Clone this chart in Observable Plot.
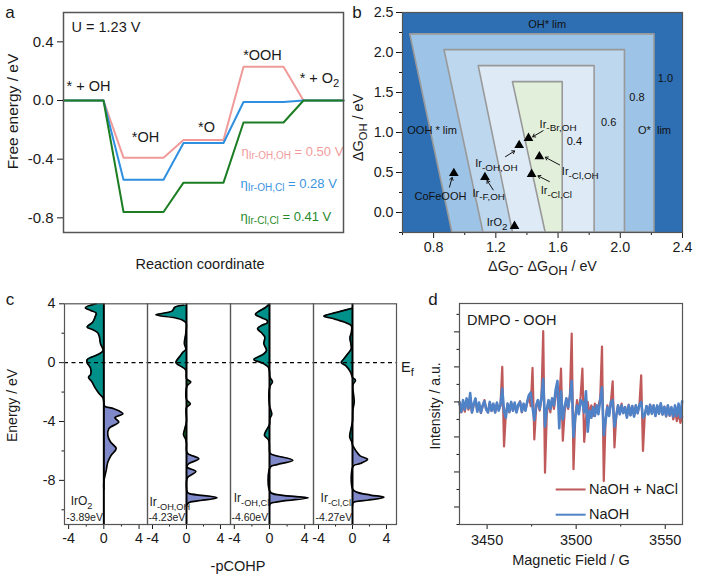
<!DOCTYPE html>
<html>
<head>
<meta charset="utf-8">
<script src="https://cdn.jsdelivr.net/npm/d3@7"></script>
<script src="https://cdn.jsdelivr.net/npm/@observablehq/plot@0.6"></script>
<style>
  body { margin: 0; background: white; font-family: "Liberation Sans", sans-serif; color: #1a1a1a; }
  #stage { position: relative; width: 708px; height: 588px; overflow: hidden; }
  #stage svg { position: absolute; }
  .note { position: absolute; font-size: 14.5px; white-space: nowrap; transform: translate(-50%, -50%); }
  .letter { font-size: 17px; }
</style>
</head>
<body>
<div id="stage"></div>
<script>
// panel a: free energy steps
const coord = [0, 2, 3, 5, 6, 8, 9, 11, 12, 14];
const stepsOH = [0, 0, -0.39, -0.39, -0.27, -0.27, 0.23, 0.23, 0, 0];
const stepsMix = [0, 0, -0.54, -0.54, -0.29, -0.29, -0.01, -0.01, 0, 0];
const stepsCl = [0, 0, -0.76, -0.76, -0.56, -0.56, -0.15, -0.15, 0, 0];
const aTicks = [0.4, 0, -0.4, -0.8];
const aText = ["* + OH", "*OH", "*O", "*OOH", "* + O_{2}"];
const aTextX = [1.25, 4.1, 7.15, 9.95, 12.8];
const aTextY = [0.095, -0.25, -0.18, 0.31, 0.15];
const etaText = ["η_{Ir-OH,OH} = 0.50 V", "η_{Ir-OH,Cl} = 0.28 V", "η_{Ir-Cl,Cl} = 0.41 V"];
const etaX = [8.9, 8.85, 8.85];
const etaY = [-0.347, -0.565, -0.79];
const etaColor = ["#f29c9c", "#3a94e0", "#2a8a2a"];

// panel b: volcano contours, outermost first
const levelColor = ["#9dc3e6", "#bdd7ee", "#deebf7", "#e2efda"];
const levelTop = [2.226, 2.03, 1.83, 1.63];
const levelTopLeft = [0.65, 0.87, 1.09, 1.31];
const levelBottomLeft = [0.92, 1.12, 1.31, 1.52];
const levelRight = [2.22, 2.03, 1.835, 1.63];
const catX = [0.93, 1.13, 1.35, 1.41, 1.48, 1.43, 1.32];
const catY = [0.49, 0.44, 0.84, 0.93, 0.7, 0.48, -0.17];
const bText = ["OH* lim", "1.0", "0.8", "0.6", "0.4", "O*  lim", "OOH * lim", "Ir_{-Br,OH}", "Ir_{-OH,OH}", "Ir_{-Cl,OH}", "Ir_{-F,OH}", "Ir_{-Cl,Cl}", "CoFeOOH", "IrO_{2}"];
const bTextX = [1.53, 2.29, 2.107, 1.925, 1.705, 2.22, 0.79, 1.6, 1.204, 1.743, 1.154, 1.589, 0.844, 1.208];
const bTextY = [2.35, 1.67, 1.44, 1.12, 0.89, 1.03, 1.03, 1.105, 0.616, 0.51, 0.242, 0.27, 0.2, -0.124];
const arrowX1 = [1.504, 1.262, 1.61, 1.544, 1.183, 0.902];
const arrowY1 = [1.022, 0.698, 0.595, 0.387, 0.283, 0.317];
const arrowX2 = [1.437, 1.321, 1.518, 1.471, 1.144, 0.919];
const arrowY2 = [0.947, 0.769, 0.69, 0.458, 0.4, 0.437];

// panel c: -pCOHP curves read from top to bottom
const e1 = [4, 3.73, 3.55, 3.37, 3.1, 2.76, 2.42, 2.24, 2.03, 1.74, 1.29, 0.83, 0.6, 0.2, 0, -0.4, -0.8, -1, -1.3, -1.7, -2.1, -2.4, -2.7, -2.95, -3.13, -3.47, -3.74, -4.03, -4.48, -4.94, -5.39, -5.84, -6.29, -6.75, -7.3, -8.1, -8.6];
const v1 = [-0.87, -2.1, -1.5, -0.87, -1, -1.25, -1.9, -1.25, -0.7, -0.5, -0.38, -0.08, -0.5, -1.9, -1.9, -1.5, -1.5, -1.74, -1.36, -1, -0.55, -0.1, 0, 0.08, 1.14, 2.16, 1.25, 1.7, 0.57, 0.45, 0.76, 1.4, 0.83, 0.45, 0.27, 0, 0];
const e2 = [3.9, 3.77, 3.5, 3.25, 3.05, 2.87, 2.7, 2, 1.3, 0.9, 0.72, 0.49, 0, -0.2, -0.5, -1.1, -1.3, -1.6, -2.5, -2.8, -3.05, -4, -4.6, -4.9, -5.2, -5.5, -6, -6.2, -6.53, -6.87, -7.1, -7.39, -7.73, -7.9, -8.8, -8.9, -9.18, -9.4, -9.52, -9.7];
const v2 = [-0.3, -1.37, -1.7, -3.6, -1.37, -0.4, -0.05, -0.08, -0.25, -0.08, -0.4, -0.7, -1.25, -0.8, -0.08, 0, 0.5, 0.05, 0, 0.45, 0, 0, -0.25, -0.35, -0.1, 0, 0, 0.2, 1.45, 0.25, 0.05, 1.1, 0.25, 0.05, 0.1, 0.35, 3.6, 1.3, 0.25, 0];
const e3 = [4, 3.73, 3.55, 3.28, 3.05, 2.87, 2.69, 2.53, 2.3, 2.03, 1.74, 1.29, 0.83, 0.6, 0.2, 0, -0.3, -0.64, -1, -1.3, -1.6, -2.9, -3.5, -3.8, -4.2, -4.7, -4.94, -5.28, -5.95, -6.18, -6.63, -6.93, -7.09, -8.8, -9, -9.19, -9.4, -9.57, -9.7];
const v3 = [0, -0.5, -1.05, -1.6, -0.9, -0.27, -0.27, -0.9, -1.36, -0.9, -0.53, -0.64, -0.34, -0.64, -1.78, -0.9, -0.15, 0, 0.05, 0.34, 0.05, 0, 0.26, 0.05, 0, -0.45, -0.57, -0.08, 0, 0.1, 2.65, 0.87, 0.1, 0.1, 1.25, 4.4, 1.6, 0.1, 0];
const e4 = [3.7, 3.55, 3.32, 3.16, 2.98, 2.76, 2.53, 2, 1.7, 1.3, 0.95, 0.6, 0.27, 0, -0.2, -0.64, -1, -1.2, -1.5, -2.67, -3.2, -4, -4.7, -5.05, -5.4, -5.6, -5.66, -6.07, -6.34, -6.57, -6.86, -7.02, -8.6, -8.8, -9, -9.15, -9.35, -9.5, -9.7];
const v4 = [-0.05, -1, -2.5, -3.37, -2.2, -1, -0.15, -0.15, -0.3, -0.2, -0.15, -0.55, -1, -1.33, -0.8, -0.23, 0, 0.35, 0.05, 0.2, 0.05, 0, -0.25, -0.33, -0.08, 0, 0.05, 0.5, 0.9, 1.77, 0.9, 0.1, 0.02, 0.5, 2.1, 3.7, 1.7, 0.1, 0];
const tealFrom = [-2.7, -0.8, -0.8, -1];
const purpleTo = [-2.7, -5.8, -5.95, -5.6];
const middleColor = ["#00908a", "#1f7d3c", "#00908a", "#00908a"];
const cLeft = [64, 147, 230, 313];
const cDomain = [[-4.47, 4.96], [-4.59, 5.18], [-4.43, 5], [-4.59, 5.18]];
const cName = ["IrO_{2}", "Ir_{-OH,OH}", "Ir_{-OH,Cl}", "Ir_{-Cl,Cl}"];
const cNameX = [-2.53, -4.35, -4.06, -3.76];
const cNameY = [-9.43, -9.5, -9.23, -9.23];
const cNameAnchor = ["middle", "start", "start", "start"];
const cCentre = ["-3.89eV", "-4.23eV", "-4.60eV", "-4.27eV"];
const cCentreX = [-2.19, -2.3, -2.24, -2.2];
const cCentreY = [-10.56, -10.56, -10.56, -10.5];

// panel d: EPR spectra
const field = [
  3434.5, 3435.5, 3436.5, 3437.5, 3438.5, 3439.5, 3440.5, 3441.5, 3442.5, 3443.5,
  3444.5, 3445.5, 3446.5, 3447.5, 3448.5, 3449.5, 3450.5, 3451.5, 3452.5, 3453.5,
  3454.5, 3455.5, 3456.5, 3457.5, 3458.5, 3459.5, 3460.5, 3461.5, 3462.5, 3463.5,
  3464.5, 3465.5, 3466.5, 3467.5, 3468.5, 3469.5, 3470.5, 3471.5, 3472.5, 3473.5,
  3474.5, 3475.5, 3476.5, 3477.5, 3478.5, 3479.5, 3480.5, 3481.5, 3482.5, 3483.5,
  3484.5, 3485.5, 3486.5, 3487.5, 3488.5, 3489.5, 3490.5, 3491.5, 3492.5, 3493.5,
  3494.5, 3495.5, 3496.5, 3497.5, 3498.5, 3499.5, 3500.5, 3501.5, 3502.5, 3503.5,
  3504.5, 3505.5, 3506.5, 3507.5, 3508.5, 3509.5, 3510.5, 3511.5, 3512.5, 3513.5,
  3514.5, 3515.5, 3516.5, 3517.5, 3518.5, 3519.5, 3520.5, 3521.5, 3522.5, 3523.5,
  3524.5, 3525.5, 3526.5, 3527.5, 3528.5, 3529.5, 3530.5, 3531.5, 3532.5, 3533.5,
  3534.5, 3535.5, 3536.5, 3537.5, 3538.5, 3539.5, 3540.5, 3541.5, 3542.5, 3543.5,
  3544.5, 3545.5, 3546.5, 3547.5, 3548.5, 3549.5, 3550.5, 3551.5, 3552.5, 3553.5,
  3554.5, 3555.5, 3556.5, 3557.5, 3558.5, 3559.5
];
const naohNacl = [
  -0.05, -0.3, -0.1, -0.28, 0.05, -0.22, -0.02, -0.3, -0.08, 0.02,
  -0.25, -0.05, -0.32, -0.12, 0.05, -0.2, -0.3, -0.02, -0.26, -0.08,
  -0.3, -0.05, -0.22, -0.12, 1, -1.27, -0.35, -0.05, -0.3, -0.02,
  -0.25, -0.05, -0.28, -0.1, 0.02, -0.3, -0.06, -0.24, -0.02, 0.15,
  -0.12, 0.97, -1.07, -0.2, 0.05, -0.25, 0.08, 2.02, -2.02, -0.35,
  0.02, -0.3, 0.1, -0.2, 0.15, 0.3, -0.1, 0.95, -1.11, -0.3,
  0.1, -0.2, 0.2, 1.95, -1.92, -0.4, 0.05, -0.3, 0.15, 0.95,
  -1.14, -0.5, 0, -0.35, -0.1, -0.4, -0.05, -0.3, -0.1, 0.1,
  1.58, -2.26, -0.5, -0.1, -0.35, 0, 0.59, -1.3, -0.4, -0.1,
  -0.35, -0.05, -0.3, -0.15, -0.42, -0.08, -0.38, -0.12, -0.4, -0.1,
  -0.32, -0.1, 0.76, -1.4, -0.4, -0.12, -0.35, -0.08, -0.32, -0.1,
  -0.4, -0.12, -0.34, -0.06, -0.36, -0.14, -0.42, -0.1, -0.4, -0.18,
  -0.5, -0.25, -0.55, -0.3, -0.6, -0.42
];
const naoh = [
  0, -0.28, 0.05, -0.22, 0.1, -0.18, 0.25, -0.3, -0.05, 0.1,
  -0.28, -0.02, -0.3, -0.1, 0.02, -0.22, -0.3, 0, -0.25, -0.05,
  -0.3, -0.02, -0.25, -0.08, 0.38, -0.28, -0.45, -0.05, -0.28, 0,
  -0.25, -0.02, -0.3, -0.08, 0, -0.28, -0.05, -0.25, 0, 0.2,
  0.27, -0.15, -0.52, -0.1, 0.05, -0.2, 0.12, 0.65, -0.7, -0.2,
  0.05, -0.2, 0.1, -0.1, 0.35, 0.6, -0.75, 0.3, -0.5, -0.15,
  0.1, -0.15, 0.15, 0.6, -1, -0.45, -0.1, -0.35, 0.05, 0,
  -0.3, 0.3, -0.85, -0.25, -0.45, -0.15, -0.4, -0.1, -0.35, 0.05,
  0.42, -0.95, -0.55, -0.15, -0.4, 0, 0.05, -0.7, -0.4, -0.1,
  -0.35, -0.1, -0.32, -0.15, -0.45, -0.1, -0.38, -0.12, -0.42, -0.1,
  -0.32, -0.08, 0, -0.45, -0.38, -0.12, -0.35, -0.08, -0.34, -0.1,
  -0.4, -0.1, -0.34, -0.04, -0.36, -0.14, -0.4, -0.1, -0.38, -0.15,
  -0.42, -0.1, -0.4, -0.05, -0.45, 0.02
];
const legendNames = ["NaOH + NaCl", "NaOH"];
const legendColor = ["#c05a5a", "#4f82c6"];
const legendY = [-2.5, -3.22];
const legendFrom = [3488.5, 3488.5];
const legendTo = [3505.3, 3505.3];
const legendTextX = [3507.2, 3507.2];

const stage = document.getElementById("stage");
const baseStyle = { background: "transparent", fontSize: "14.3px", fontFamily: "Liberation Sans", color: "#1a1a1a", overflow: "visible" };
const frameColor = "#555";

// turns "x_{y}" in any svg text into a real subscript
function addSubscripts(svg) {
  for (const el of svg.querySelectorAll("text")) {
    if (!el.textContent.includes("_{")) continue;
    const holder = el.closest("[font-size]");
    const small = holder && parseFloat(holder.getAttribute("font-size")) < 11.5;
    const parts = el.textContent.split(/(_\{[^}]*\})/).filter((p) => p);
    el.textContent = "";
    let after = false;
    for (const p of parts) {
      const span = document.createElementNS("http://www.w3.org/2000/svg", "tspan");
      if (p.startsWith("_{")) {
        span.textContent = p.slice(2, -1);
        span.setAttribute("font-size", small ? "90%" : "77%");
        span.setAttribute("dy", "0.38em");
        after = small ? "-0.34em" : "-0.29em";
      } else {
        span.textContent = p;
        if (after) span.setAttribute("dy", after);
        after = false;
      }
      el.appendChild(span);
    }
  }
}

function place(chart, left, top) {
  addSubscripts(chart);
  chart.style.left = left + "px";
  chart.style.top = top + "px";
  stage.appendChild(chart);
}

function note(text, x, y, cls) {
  const div = document.createElement("div");
  div.className = "note " + (cls || "");
  div.textContent = text;
  div.style.left = x + "px";
  div.style.top = y + "px";
  stage.appendChild(div);
}

// rotated axis title, these sit off the frame centre in the reference
const yTitle = (text, dx, dy, fontSize) =>
  Plot.text([text], { frameAnchor: "left", textAnchor: "middle", lineAnchor: "middle", rotate: -90, dx, dy, fontSize });

const oneDecimal = (d) => d.toFixed(1);

// panel a
place(Plot.plot({
  width: 350, height: 285,
  marginLeft: 63, marginRight: 7, marginTop: 12, marginBottom: 53,
  style: { ...baseStyle, fontSize: "15px" },
  x: { domain: [0, 14], axis: null },
  y: { domain: [-0.9, 0.6] },
  color: { type: "identity" },
  marks: [
    Plot.line(stepsOH, { x: coord, y: stepsOH, stroke: "#f09a9a", strokeWidth: 2 }),
    Plot.line(stepsMix, { x: coord, y: stepsMix, stroke: "#2f8fe0", strokeWidth: 2 }),
    Plot.line(stepsCl, { x: coord, y: stepsCl, stroke: "#1c7d22", strokeWidth: 2 }),
    Plot.axisY({ ticks: aTicks, tickSize: 6, tickPadding: 4, tickFormat: oneDecimal, label: null }),
    yTitle("Free energy / eV", -50.3, -11, 15.5),
    Plot.text(["U = 1.23 V"], { x: [0.4], y: [0.5], textAnchor: "start", fontSize: 14.5 }),
    Plot.text(aText, { x: aTextX, y: aTextY, fontSize: 14.5 }),
    Plot.text(etaText, { x: etaX, y: etaY, fill: etaColor, textAnchor: "start", fontSize: 13 }),
    Plot.frame({ stroke: frameColor, strokeWidth: 1.5 })
  ]
}), 0, 0);
note("Reaction coordinate", 200, 264);

// panel b
place(Plot.plot({
  width: 358, height: 285,
  marginLeft: 52, marginRight: 26, marginTop: 12, marginBottom: 53,
  style: baseStyle,
  x: { domain: [0.6, 2.4] },
  y: { domain: [-0.25, 2.5] },
  marks: [
    Plot.frame({ fill: "#2e6eb2" }),
    ...levelColor.map((color, i) =>
      Plot.areaX([levelTop[i], -0.25], {
        y: (d) => d,
        x1: [levelTopLeft[i], levelBottomLeft[i]],
        x2: [levelRight[i], levelRight[i]],
        fill: color,
        stroke: "#999",
        strokeWidth: 1.6
      })
    ),
    Plot.axisX({ ticks: [0.8, 1.2, 1.6, 2.0, 2.4], tickSize: 6, tickPadding: 3, tickFormat: oneDecimal, label: "ΔG_{O}- ΔG_{OH} / eV", labelAnchor: "center", labelOffset: 38, labelArrow: "none" }),
    Plot.axisX({ ticks: [0.6, 1.0, 1.4, 1.8, 2.2], tickSize: 3, tickFormat: () => "", label: null }),
    Plot.axisY({ ticks: [2.5, 2.0, 1.5, 1.0, 0.5, 0], tickSize: 6, tickPadding: 3, tickFormat: oneDecimal, label: null }),
    Plot.axisY({ ticks: [2.25, 1.75, 1.25, 0.75, 0.25, -0.25], tickSize: 3, tickFormat: () => "", label: null }),
    yTitle("ΔG_{OH} / eV", -44, 5, 14.5),
    Plot.arrow(arrowX1, { x1: arrowX1, y1: arrowY1, x2: arrowX2, y2: arrowY2, stroke: "#111", strokeWidth: 1, headLength: 4.5, headAngle: 70, bend: 0 }),
    Plot.dot(catX, { x: catX, y: catY, symbol: "triangle", r: 3.6, fill: "black" }),
    Plot.text(bText, { x: bTextX, y: bTextY, fontSize: 11, fill: "#111" }),
    Plot.frame({ stroke: frameColor, strokeWidth: 1.2 })
  ]
}), 350, 0);

// panel c, one plot for each site, frames butt against each other
[[e1, v1], [e2, v2], [e3, v3], [e4, v4]].forEach(([energy, value], i) => {
  const rows = energy.map((e, k) => ({ e, v: value[k] }));
  const lobe = (test, fill) => Plot.areaX(rows.filter(test), { y: "e", x1: 0, x2: "v", fill, curve: "catmull-rom" });
  const last = i === 3;
  place(Plot.plot({
    width: 83 + 64 + 40, height: 303,
    marginLeft: 64, marginRight: 40, marginTop: 18.3, marginBottom: 64,
    style: baseStyle,
    x: { domain: cDomain[i] },
    y: i === 0 ? { domain: [-11, 4] } : { domain: [-11, 4], axis: null },
    marks: [
      lobe((d) => d.e >= tealFrom[i], "#00908a"),
      lobe((d) => d.e <= tealFrom[i] && d.e >= purpleTo[i], middleColor[i]),
      lobe((d) => d.e <= purpleTo[i], "#7f89c9"),
      Plot.lineX(rows, { x: "v", y: "e", stroke: "black", strokeWidth: 1.7, curve: "catmull-rom" }),
      Plot.ruleX([0], { stroke: "black", strokeWidth: 2 }),
      Plot.ruleY([0], { stroke: "black", strokeWidth: 1.2, strokeDasharray: "4,3.5" }),
      Plot.axisX({ ticks: [-4, 0, 4], tickSize: 5, tickPadding: 3, tickFormat: (d) => String(d), label: null }),
      Plot.axisX({ ticks: [-2, 2], tickSize: 2.5, tickFormat: () => "", label: null }),
      ...(i === 0 ? [
        Plot.axisY({ ticks: [4, 0, -4, -8], tickSize: 5, tickPadding: 4, tickFormat: (d) => String(d), label: null }),
        Plot.axisY({ ticks: [2, -2, -6, -10], tickSize: 2.5, tickFormat: () => "", label: null }),
        yTitle("Energy / eV", -51.7, -8.7, 14)
      ] : []),
      Plot.text([cName[i]], { x: [cNameX[i]], y: [cNameY[i]], textAnchor: cNameAnchor[i], fontSize: 12, fill: "#222" }),
      Plot.text([cCentre[i]], { x: [cCentreX[i]], y: [cCentreY[i]], fontSize: 10.5, fill: "#222" }),
      ...(last ? [Plot.text(["E_{f}"], { x: [6.47], y: [-0.3], fontSize: 14.5 })] : []),
      Plot.frame({ stroke: frameColor, strokeWidth: 1.2 })
    ]
  }), cLeft[i] - 64, 285);
});
note("-pCOHP", 238, 566);

// panel d
place(Plot.plot({
  width: 288, height: 303,
  marginLeft: 39, marginRight: 26, marginTop: 18, marginBottom: 64,
  style: { ...baseStyle, fontSize: "14.5px" },
  x: { domain: [3434.5, 3559.7] },
  y: { domain: [-3.5, 2.81] },
  marks: [
    Plot.line(field, { x: field, y: naohNacl, stroke: legendColor[0], strokeWidth: 2.2 }),
    Plot.line(field, { x: field, y: naoh, stroke: legendColor[1], strokeWidth: 2.6 }),
    Plot.axisX({ ticks: [3450, 3500, 3550], tickSize: 5, tickPadding: 5, tickFormat: (d) => String(d), label: "Magnetic Field / G", labelAnchor: "center", labelOffset: 40, labelArrow: "none" }),
    Plot.axisX({ ticks: [3475, 3525], tickSize: 2.5, tickFormat: () => "", label: null }),
    Plot.axisY({ ticks: [-3, -2, -1, 0, 1, 2], tickSize: 5, tickFormat: () => "", label: null }),
    Plot.axisY({ ticks: [-3.5, -2.5, -1.5, -0.5, 0.5, 1.5, 2.5], tickSize: 2.5, tickFormat: () => "", label: null }),
    yTitle("Intensity / a.u.", -24, -8, 14),
    Plot.text(["DMPO - OOH"], { x: [3438.7], y: [2.33], textAnchor: "start", fontSize: 14.5 }),
    ...legendNames.map((name, i) => Plot.link([name], { x1: [legendFrom[i]], x2: [legendTo[i]], y1: [legendY[i]], y2: [legendY[i]], stroke: legendColor[i], strokeWidth: 2 })),
    Plot.text(legendNames, { x: legendTextX, y: legendY, textAnchor: "start", fontSize: 14.5 }),
    Plot.frame({ stroke: frameColor, strokeWidth: 1.2 })
  ]
}), 420, 285);

note("a", 10, 13, "letter");
note("b", 357, 13, "letter");
note("c", 10, 300, "letter");
note("d", 433, 300, "letter");
</script>
</body>
</html>
